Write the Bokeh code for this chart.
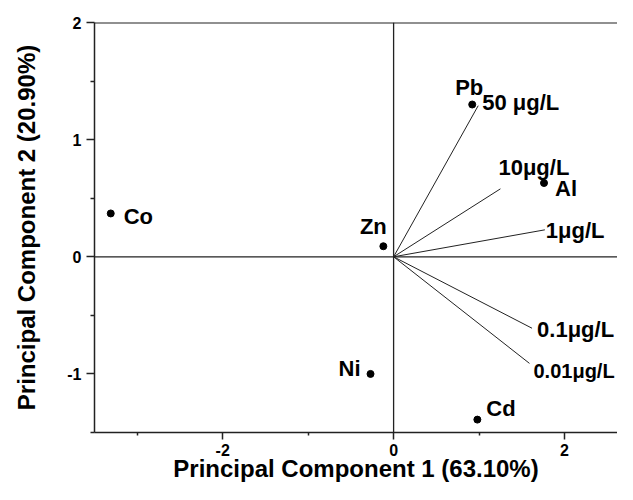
from bokeh.plotting import figure
from bokeh.models import Span, FixedTicker, ColumnDataSource, Range1d, PrintfTickFormatter
from bokeh.core.properties import value
from bokeh.embed import file_html
from bokeh.resources import INLINE

# ---- data ----
elements = ["Co", "Zn", "Pb", "Al", "Ni", "Cd"]
pc1 = [-3.31, -0.12, 0.92, 1.76, -0.27, 0.98]
pc2 = [0.37, 0.09, 1.30, 0.63, -1.00, -1.39]

concentrations = ["50 μg/L", "10μg/L", "1μg/L", "0.1μg/L", "0.01μg/L"]
loading1 = [0.99, 1.25, 1.77, 1.62, 1.59]
loading2 = [1.29, 0.58, 0.23, -0.61, -0.91]

x_ticks = [-2, 0, 2]
x_minor = [-3, -1, 1]
y_ticks = [-1, 0, 1, 2]
y_minor = [-1.5, -0.5, 0.5, 1.5]

# ---- label styling (pixel offsets, font sizes) ----
el_dx = [13, -10, -3, 11, -10, 9]
el_dy = [3, -20, -17, 6, -5, -11]
el_align = ["left", "center", "center", "left", "right", "left"]

cc_dx = [4, -2, 1, 5, 4]
cc_dy = [-3, -21, 1, 1, 8]
cc_size = ["22px", "22px", "22px", "22px", "20px"]

FONT = "Liberation Sans"

p = figure(width=617, height=484, output_backend="svg", toolbar_location=None,
           x_range=Range1d(-3.5, 2.62), y_range=Range1d(-1.5, 2.0),
           min_border_left=94, min_border_right=0, min_border_top=22,
           min_border_bottom=52)
p.background_fill_color = "white"
p.border_fill_color = "white"
p.outline_line_color = None
p.xgrid.visible = False
p.ygrid.visible = False

for ax, ticks, minor in ((p.xaxis[0], x_ticks, x_minor), (p.yaxis[0], y_ticks, y_minor)):
    ax.ticker = FixedTicker(ticks=ticks, minor_ticks=minor)
    ax.formatter = PrintfTickFormatter(format="%d")
    ax.axis_line_width = 1.5
    ax.axis_line_color = "#222222"
    ax.major_tick_line_width = 1.5
    ax.minor_tick_line_width = 1.5
    ax.major_tick_line_color = "#222222"
    ax.minor_tick_line_color = "#222222"
    ax.major_tick_in = 0
    ax.minor_tick_in = 0
    ax.major_label_text_font = FONT
    ax.major_label_text_font_style = "bold"
    ax.major_label_text_font_size = "16px"
    ax.major_label_text_color = "black"
    ax.axis_label_text_font = FONT
    ax.axis_label_text_font_style = "bold"
    ax.axis_label_text_font_size = "24px"
    ax.axis_label_text_color = "black"

p.xaxis.major_tick_out = 7
p.xaxis.minor_tick_out = 3
p.yaxis.major_tick_out = 8
p.yaxis.minor_tick_out = 4
p.xaxis.major_label_standoff = 4
p.yaxis.major_label_standoff = 5
p.xaxis.axis_label = "Principal Component 1 (63.10%)"
p.yaxis.axis_label = "Principal Component 2 (20.90%)"
p.xaxis.axis_label_standoff = -4
p.yaxis.axis_label_standoff = 24

# frame top line and zero lines
p.add_layout(Span(location=2.0, dimension="width", line_color="#222222", line_width=2))
p.add_layout(Span(location=0, dimension="width", line_color="#222222", line_width=1.3))
p.add_layout(Span(location=0, dimension="height", line_color="#222222", line_width=1.3))

# loading vectors
vec = ColumnDataSource(dict(x0=[0] * len(loading1), y0=[0] * len(loading1),
                            x1=loading1, y1=loading2, label=concentrations,
                            dx=cc_dx, dy=cc_dy, fs=cc_size))
p.segment("x0", "y0", "x1", "y1", source=vec, line_color="#222222", line_width=1)
p.text("x1", "y1", text="label", source=vec, x_offset="dx", y_offset="dy",
       text_font=value(FONT), text_font_style="bold", text_font_size="fs",
       text_align="left", text_baseline="alphabetic", text_color="black")

# element scores
pts = ColumnDataSource(dict(x=pc1, y=pc2, label=elements, dx=el_dx, dy=el_dy, al=el_align))
p.scatter("x", "y", source=pts, size=7, color="black")
p.text("x", "y", text="label", source=pts, x_offset="dx", y_offset="dy", text_align="al",
       text_font=value(FONT), text_font_style="bold", text_font_size="22px",
       text_baseline="alphabetic", text_color="black")

open("out.html", "w").write(file_html(p, INLINE))
